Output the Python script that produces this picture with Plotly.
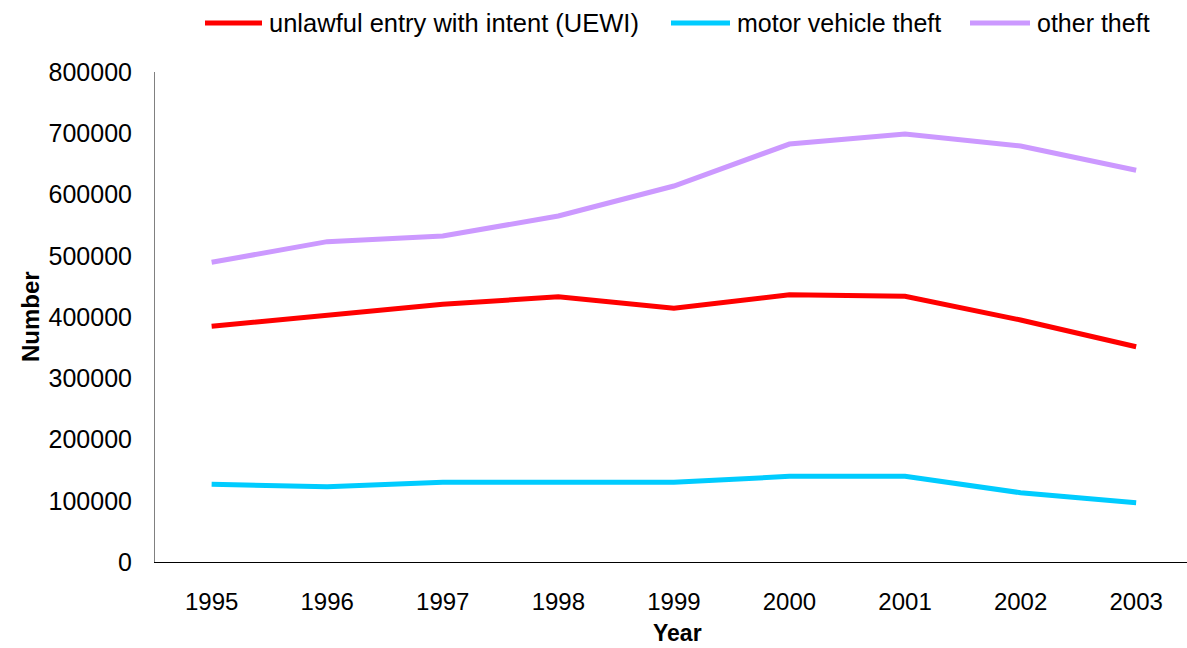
import plotly.graph_objects as go

years = ["1995", "1996", "1997", "1998", "1999", "2000", "2001", "2002", "2003"]
uewi = [384800, 402100, 420700, 433100, 414200, 436400, 433800, 395100, 351500]
motor = [126900, 122900, 130100, 130100, 130100, 139900, 139900, 113100, 96800]
other = [489300, 523000, 532200, 564900, 613900, 682400, 698800, 679200, 639500]

series_names = ["unlawful entry with intent (UEWI)", "motor vehicle theft", "other theft"]
series_colors = ["#FF0000", "#00CCFF", "#CC99FF"]
y_ticks = [0, 100000, 200000, 300000, 400000, 500000, 600000, 700000, 800000]

FONT = "Liberation Sans, Arial, sans-serif"
W, H = 1187, 648
L, R, T, B = 155, 0, 72, 86
PW, PH = W - L - R, H - T - B


def px_x(px):
    return (px - L) / PW


def px_y(py):
    return (H - B - py) / PH


fig = go.Figure()
for name, vals, col in zip(series_names, [uewi, motor, other], series_colors):
    fig.add_trace(go.Scatter(x=list(range(len(years))), y=vals, mode="lines", name=name,
                             line=dict(color=col, width=5), showlegend=False))

# manual legend (line sample + label), laid out as in the reference
legend_pos = [(205, 262), (671, 730), (970, 1030)]
legend_sizes = [25.5, 25, 25]
legend_y = 23
shapes = []
annotations = []
for (x0, x1), name, col, fs in zip(legend_pos, series_names, series_colors, legend_sizes):
    shapes.append(dict(type="line", xref="paper", yref="paper",
                       x0=px_x(x0), x1=px_x(x1), y0=px_y(legend_y), y1=px_y(legend_y),
                       line=dict(color=col, width=5)))
    annotations.append(dict(text=name, xref="paper", yref="paper", x=px_x(x1 + 5), y=px_y(legend_y),
                            xanchor="left", yanchor="middle", showarrow=False,
                            font=dict(size=fs, color="black", family=FONT)))

annotations.append(dict(text="<b>Year</b>", xref="paper", yref="paper", x=px_x(677), y=px_y(633),
                        xanchor="center", yanchor="middle", showarrow=False,
                        font=dict(size=23, color="black", family=FONT)))
annotations.append(dict(text="<b>Number</b>", xref="paper", yref="paper", x=px_x(30), y=px_y(317),
                        xanchor="center", yanchor="middle", showarrow=False, textangle=-90,
                        font=dict(size=24, color="black", family=FONT)))

fig.update_layout(
    width=W, height=H,
    margin=dict(l=L, r=R, t=T, b=B, autoexpand=False),
    paper_bgcolor="white", plot_bgcolor="white",
    font=dict(family=FONT, size=24, color="black"),
    showlegend=False,
    shapes=shapes, annotations=annotations,
)
fig.update_xaxes(
    range=[-0.49, 8.44], tickmode="array", tickvals=list(range(len(years))), ticktext=years,
    showgrid=False, zeroline=False, showline=True, linecolor="black", linewidth=1,
    ticks="", ticklabelstandoff=18, tickfont=dict(size=24), automargin=False,
)
fig.update_yaxes(
    range=[0, 800000], tickmode="array", tickvals=y_ticks, ticktext=[str(v) for v in y_ticks],
    showgrid=False, zeroline=False, showline=True, linecolor="#808080", linewidth=1,
    ticks="", ticklabelstandoff=17, tickfont=dict(size=25), automargin=False,
)

fig.write_html("out.html", config={"displayModeBar": False},
               post_script="document.body.style.margin='0px';document.body.style.overflow='hidden';")
